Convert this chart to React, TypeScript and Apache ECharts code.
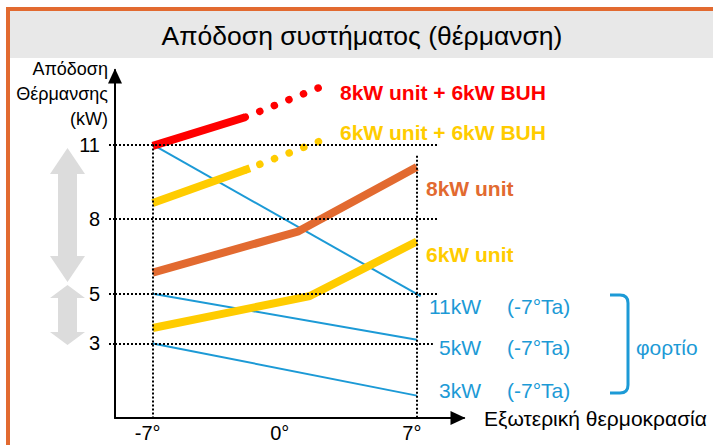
import React, { useEffect, useRef } from 'react';
import * as echarts from 'echarts';

const FONT = "'Liberation Sans', Arial, sans-serif";

// ---- data ----
const titleText = 'Απόδοση συστήματος (θέρμανση)';
const yAxisName = 'Απόδοση\nΘέρμανσης\n(kW)';
const xAxisName = 'Εξωτερική θερμοκρασία';
const yTicks = [3, 5, 8, 11];
const xTicks = [-7, 0, 7];

// capacity curves [outdoor temp °C, kW]
const unit8Buh = [[-7, 10.95], [-2.1, 12.1]];
const unit8BuhExt = [[-2.1, 12.1], [1.85, 13.3]];
const unit6Buh = [[-7, 8.65], [-1.85, 10.05]];
const unit6BuhExt = [[-2.1, 9.98], [1.9, 11.15]];
const unit8 = [[-7, 5.85], [0.7, 7.5], [7, 10.1]];
const unit6 = [[-7, 3.62], [1.3, 4.9], [7, 7.1]];
// load lines
const load11 = [[-7, 11], [7.2, 4.9]];
const load5 = [[-7, 5], [7, 3.15]];
const load3 = [[-7, 3], [7, 0.9]];

const curveNames = ['8kW unit + 6kW BUH', '6kW unit + 6kW BUH', '8kW unit', '6kW unit'];
const loadNames = ['11kW', '5kW', '3kW'];
const loadNote = '(-7°Ta)';
const loadGroup = 'φορτίο';

const RED = '#FF0000';
const YEL = '#FFCC00';
const ORG = '#E26A30';
const BLUE = '#1C9AD6';
const GREY = '#DCDCDC';

echarts.graphic.registerShape(
  'bracket',
  echarts.graphic.extendPath('M0 0 L10 0 Q18 0 18 8 L18 90 Q18 98 10 98 L0 98', {})
);

function arrowPoints(cx: number, top: number, bottom: number, head: number, hw: number, sw: number) {
  return [
    [cx, top], [cx + hw, top + head], [cx + sw, top + head], [cx + sw, bottom - head],
    [cx + hw, bottom - head], [cx, bottom], [cx - hw, bottom - head], [cx - sw, bottom - head],
    [cx - sw, top + head], [cx - hw, top + head],
  ];
}

export default function App() {
  const ref = useRef<HTMLDivElement>(null);
  useEffect(() => {
    if (!ref.current) return;
    const chart = echarts.init(ref.current, undefined, { renderer: 'svg' });
    const dotted = { color: '#000', type: [2, 2] as any, width: 2 };
    const solid = (data: number[][], color: string, width: number, z: number) => ({
      type: 'line', data, symbol: 'none', showSymbol: false, silent: true, z,
      lineStyle: { color, width, cap: 'butt', join: 'miter' },
    });
    const dots = (data: number[][], color: string) => ({
      type: 'line', data, symbol: 'none', showSymbol: false, silent: true, z: 4,
      lineStyle: { color, width: 7.5, type: [0.1, 15.6], cap: 'round' },
    });
    const txt = (text: string, x: number, y: number, color: string, size: number, bold: boolean, align = 'left') => ({
      type: 'text', x, y, silent: true, z: 20,
      style: { text, fill: color, fontSize: size, fontWeight: bold ? 'bold' : 'normal', fontFamily: FONT, align, verticalAlign: 'middle' },
    });
    const loadY = [306, 347, 390];
    const axisLine = () => ({
      show: true, onZero: false, lineStyle: { color: '#000', width: 2 },
      symbol: ['none', 'triangle'], symbolSize: [14, 15], symbolOffset: [0, -6],
    });

    chart.setOption({
      animation: false,
      backgroundColor: '#fff',
      title: {
        text: titleText, left: 362, top: 22, textAlign: 'center', padding: 0, z: 10,
        textStyle: { fontSize: 26.5, fontWeight: 'normal', color: '#000', fontFamily: FONT },
      },
      grid: { left: 115, right: 249, top: 70, bottom: 27, containLabel: false, outerBoundsMode: 'none' },
      xAxis: {
        type: 'value', min: -9, max: 9.5,
        name: xAxisName, nameLocation: 'end', nameGap: 20,
        nameTextStyle: { fontSize: 21, color: '#000', fontFamily: FONT, align: 'left', verticalAlign: 'middle' },
        axisLine: axisLine(),
        axisTick: { show: false },
        axisLabel: { customValues: xTicks, formatter: (v: number) => `${v}°`, fontSize: 20, color: '#000', fontFamily: FONT, margin: 5, padding: [0, 10, 0, 0] },
        splitLine: { show: false },
      },
      yAxis: {
        type: 'value', min: 0, max: 14,
        axisLine: axisLine(),
        axisTick: { show: true, customValues: yTicks, length: 7, lineStyle: dotted },
        axisLabel: { customValues: yTicks, fontSize: 20, color: '#000', fontFamily: FONT, margin: 15 },
        splitLine: { show: false },
      },
      series: [
        {
          type: 'line', data: [], z: 1, silent: true,
          markLine: {
            silent: true, symbol: ['none', 'none'], label: { show: false }, lineStyle: dotted, animation: false,
            emphasis: { disabled: true },
            data: [
              [{ coord: [-9, 11] }, { coord: [8.1, 11] }],
              [{ coord: [-9, 8] }, { coord: [8.1, 8] }],
              [{ coord: [-9, 5] }, { coord: [8.1, 5] }],
              [{ coord: [-9, 3] }, { coord: [7.85, 3] }],
              [{ coord: [-7, 11] }, { coord: [-7, 0] }],
              [{ coord: [7, 10.55] }, { coord: [7, 0] }],
            ],
          },
        },
        solid(load11, BLUE, 2, 2),
        solid(load5, BLUE, 2, 2),
        solid(load3, BLUE, 2, 2),
        solid(unit8Buh, RED, 8, 4),
        dots(unit8BuhExt, RED),
        solid(unit6Buh, YEL, 8, 4),
        dots(unit6BuhExt, YEL),
        solid(unit8, ORG, 8, 4),
        solid(unit6, YEL, 8, 4),
      ],
      graphic: [
        { type: 'rect', silent: true, z: 0, shape: { x: 10, y: 11, width: 720, height: 47 }, style: { fill: '#E8E8E8' } },
        { type: 'rect', silent: true, z: 0, shape: { x: 8, y: 9, width: 1000, height: 1000 }, style: { fill: 'none', stroke: ORG, lineWidth: 4 } },
        { type: 'polygon', silent: true, z: 0, shape: { points: arrowPoints(67.5, 148, 282, 26, 17.5, 9.5) }, style: { fill: GREY } },
        { type: 'polygon', silent: true, z: 0, shape: { points: arrowPoints(67.5, 285, 345, 13, 17.5, 9.5) }, style: { fill: GREY } },
        {
          type: 'text', x: 108, y: 56, silent: true, z: 20,
          style: { text: yAxisName, fill: '#000', fontSize: 18, lineHeight: 25, fontFamily: FONT, align: 'right', verticalAlign: 'top' },
        },
        txt(curveNames[0], 340, 92, RED, 21, true),
        txt(curveNames[1], 340, 132, YEL, 21, true),
        txt(curveNames[2], 426, 188, ORG, 21, true),
        txt(curveNames[3], 426, 254, YEL, 21, true),
        ...loadNames.map((n, i) => txt(n, 481, loadY[i], BLUE, 21, false, 'right')),
        ...loadNames.map((_, i) => txt(loadNote, 507, loadY[i], BLUE, 21, false)),
        { type: 'bracket', x: 610, y: 295, silent: true, z: 20, style: { fill: 'none', stroke: BLUE, lineWidth: 3 } },
        txt(loadGroup, 636, 347, BLUE, 21, false),
      ],
    });
    return () => chart.dispose();
  }, []);
  return <div ref={ref} style={{ position: 'absolute', left: 0, top: 0, width: 713, height: 445, background: '#fff' }} />;
}
